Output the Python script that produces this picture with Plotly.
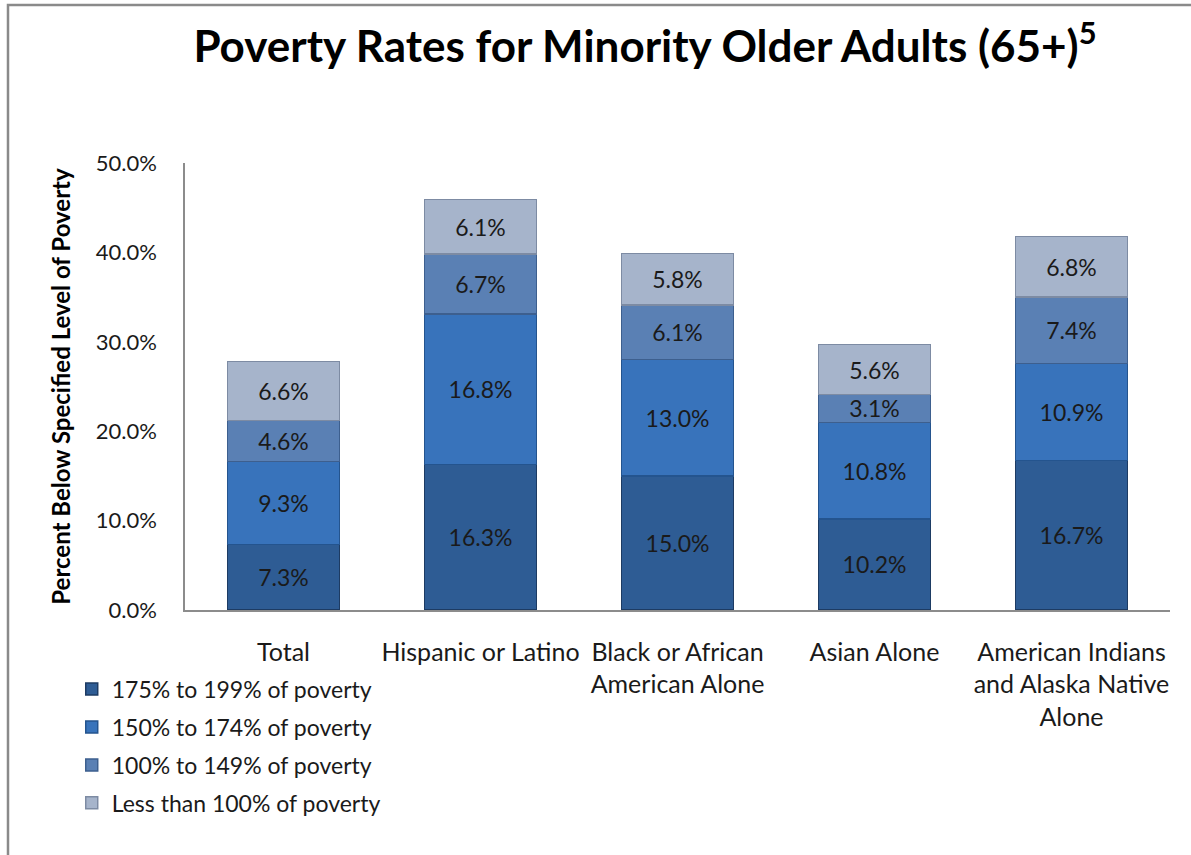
import plotly.graph_objects as go

categories = [
    "Total",
    "Hispanic or Latino",
    "Black or African<br>American Alone",
    "Asian Alone",
    "American Indians<br>and Alaska Native<br>Alone",
]

# Stacked from the bottom up
series_names = [
    "175% to 199% of poverty",
    "150% to 174% of poverty",
    "100% to 149% of poverty",
    "Less than 100% of poverty",
]
pct_175_199 = [7.3, 16.3, 15.0, 10.2, 16.7]
pct_150_174 = [9.3, 16.8, 13.0, 10.8, 10.9]
pct_100_149 = [4.6, 6.7, 6.1, 3.1, 7.4]
pct_below_100 = [6.6, 6.1, 5.8, 5.6, 6.8]

y_ticks = [0, 10, 20, 30, 40, 50]
y_tick_labels = ["0.0%", "10.0%", "20.0%", "30.0%", "40.0%", "50.0%"]

series_values = [pct_175_199, pct_150_174, pct_100_149, pct_below_100]
fill_colors = ["#2e5c94", "#3873bb", "#5a80b4", "#a6b4cb"]
edge_colors = ["#1d3b63", "#24548e", "#3d5f8e", "#7d8ba3"]

FONT = "Lato, 'Open Sans', sans-serif"

fig = go.Figure()
for i, (name, vals) in enumerate(zip(series_names, series_values)):
    fig.add_trace(
        go.Bar(
            name=name,
            x=categories,
            y=vals,
            text=[f"{v:.1f}%" for v in vals],
            textposition="inside",
            insidetextanchor="middle",
            textangle=0,
            textfont=dict(family=FONT, size=23, color="#1a1a1a"),
            marker=dict(color=fill_colors[i], line=dict(color=edge_colors[i], width=1.5)),
            legendgroup=f"g{i}",
            hoverinfo="skip",
        )
    )

fig.update_layout(
    width=1191,
    height=855,
    barmode="stack",
    bargap=0.43,
    paper_bgcolor="white",
    plot_bgcolor="white",
    margin=dict(l=185, r=21, t=163, b=245),
    font=dict(family=FONT, size=23, color="#1a1a1a"),
    uniformtext=dict(minsize=23, mode="show"),
    title=dict(
        text="<b>Poverty Rates for Minority Older Adults (65+)<sup>5</sup></b>",
        x=0.467,
        xref="paper",
        xanchor="center",
        y=0.945,
        yref="container",
        yanchor="middle",
        font=dict(family=FONT, size=44, color="black"),
    ),
    legend=dict(
        orientation="v",
        x=-0.115,
        xanchor="left",
        y=-0.129,
        yanchor="top",
        traceorder="grouped",
        tracegroupgap=5,
        font=dict(family=FONT, size=23, color="#1a1a1a"),
        itemwidth=30,
        bgcolor="rgba(0,0,0,0)",
    ),
    showlegend=True,
)

fig.update_xaxes(
    showline=True,
    linecolor="#8c8c8c",
    linewidth=1.5,
    ticks="",
    showgrid=False,
    tickfont=dict(family=FONT, size=25, color="#1a1a1a"),
    ticklabelstandoff=19,
)
fig.update_yaxes(
    range=[0, 50],
    tickvals=y_ticks,
    ticktext=y_tick_labels,
    showline=True,
    linecolor="#8c8c8c",
    linewidth=1.5,
    ticks="",
    showgrid=False,
    zeroline=False,
    ticklabelstandoff=22,
    tickfont=dict(family=FONT, size=22, color="#1a1a1a"),
    title=dict(
        text="<b>Percent Below Specified Level of Poverty</b>",
        font=dict(family=FONT, size=24, color="black"),
        standoff=18,
    ),
)

# Outer chart frame
fig.add_shape(
    type="rect",
    xref="paper",
    yref="paper",
    x0=-0.1797,
    y0=-1.0,
    x1=1.2,
    y1=1.3535,
    line=dict(color="#8a8a8a", width=2.5),
    fillcolor="rgba(0,0,0,0)",
    layer="below",
)

fig.write_html("out.html")
